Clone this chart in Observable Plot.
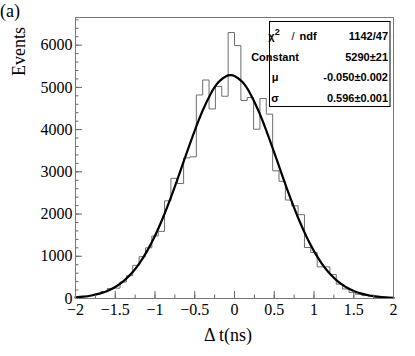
<!DOCTYPE html>
<html><head><meta charset="utf-8">
<script src="https://cdn.jsdelivr.net/npm/d3@7"></script>
<script src="https://cdn.jsdelivr.net/npm/@observablehq/plot@0.6"></script>
<style>
body{margin:0;background:#fff}
#chart{width:415px;height:356px}
#chart svg text{font-family:'Liberation Serif','Times New Roman',serif}
#chart svg g.stats text{font-family:'Liberation Sans',Arial,sans-serif;font-weight:bold}
</style>
</head><body><div id="chart"></div>
<script>
// Histogram: 50 bins of width 0.08 from -2 to 2 (Δt in ns)
const xRange = [-2, 2];
const binWidth = 0.08;
const counts = [25, 45, 70, 110, 166, 235, 245, 390, 540, 785,
  990, 1200, 1480, 1590, 2313, 2845, 2724, 3330, 3355, 4820,
  5175, 4490, 5020, 4790, 6300, 5990, 4690, 4760, 4010, 4737,
  4366, 3024, 2775, 2333, 2195, 1985, 1208, 1089, 750, 750,
  570, 340, 225, 145, 100, 70, 50, 32, 20, 12];

// Gaussian fit curve
const fitX = [-2, -1.9, -1.8, -1.7, -1.6, -1.5, -1.4, -1.3, -1.2, -1.1, -1, -0.9, -0.8, -0.7, -0.6, -0.5, -0.4, -0.3, -0.2, -0.1, -0.05,
  0, 0.1, 0.2, 0.3, 0.4, 0.5, 0.6, 0.7, 0.8, 0.9, 1, 1.1, 1.2, 1.3, 1.4, 1.5, 1.6, 1.7, 1.8, 1.9, 2];
const fitY = [25, 43, 71, 115, 180, 274, 407, 587, 822, 1121, 1485, 1913, 2396, 2918, 3456, 3978, 4452, 4845, 5125, 5271, 5290,
  5271, 5125, 4845, 4452, 3978, 3456, 2918, 2396, 1913, 1485, 1121, 822, 587, 407, 274, 180, 115, 71, 43, 25, 14];

const yMajor = [0, 1000, 2000, 3000, 4000, 5000, 6000];
const yMinor = [0, 200, 400, 600, 800, 1000, 1200, 1400, 1600, 1800, 2000, 2200, 2400, 2600, 2800, 3000, 3200, 3400, 3600, 3800,
  4000, 4200, 4400, 4600, 4800, 5000, 5200, 5400, 5600, 5800, 6000, 6200, 6400, 6600];
const yTickLabels = ["0", "1000", "2000", "3000", "4000", "5000", "6000"];
const xMajor = [-2, -1.5, -1, -0.5, 0, 0.5, 1, 1.5, 2];
const xMinor = [-2, -1.75, -1.5, -1.25, -1, -0.75, -0.5, -0.25, 0, 0.25, 0.5, 0.75, 1, 1.25, 1.5, 1.75, 2];
const xTickLabels = ["−2", "−1.5", "−1", "−0.5", "0", "0.5", "1", "1.5", "2"];

const xTitle = "Δ t(ns)";
const yTitle = "Events";
const panelTag = "(a)";
const statNames = ["Constant", "μ", "σ"];
const statValues = ["1142/47", "5290±21", "-0.050±0.002", "0.596±0.001"];

const steps = counts.map((c, i) => ({x: xRange[0] + binWidth * i, y: c}));
steps.push({x: xRange[1], y: counts[counts.length - 1]});
const fit = fitX.map((x, i) => ({x, y: fitY[i]}));

const serif = "Liberation Serif";
const axisGray = "#666";
const chart = Plot.plot({
  width: 415, height: 356,
  marginLeft: 75, marginRight: 22, marginTop: 17, marginBottom: 58,
  style: {fontFamily: serif, fontSize: "16px", color: "black", background: "white"},
  x: {domain: xRange},
  y: {domain: [0, 6655]},
  marks: [
    Plot.line(steps, {x: "x", y: "y", curve: "step-after", stroke: "#6e6e6e", strokeWidth: 1}),
    Plot.line(fit, {x: "x", y: "y", curve: "natural", stroke: "black", strokeWidth: 2.2}),
    Plot.axisY({ticks: yMinor, tickSize: -3.5, tickFormat: () => "", label: null, stroke: axisGray}),
    Plot.axisY({ticks: yMajor, tickSize: -7, tickFormat: () => "", label: null, stroke: axisGray}),
    Plot.axisY({ticks: yMajor, tickSize: 0, tickPadding: 3, tickFormat: (d, i) => yTickLabels[i], label: null, fill: "black", fontSize: 16}),
    Plot.axisX({ticks: xMinor, tickSize: -3.5, tickFormat: () => "", label: null, stroke: axisGray}),
    Plot.axisX({ticks: xMajor, tickSize: -7, tickFormat: () => "", label: null, stroke: axisGray}),
    Plot.axisX({ticks: xMajor, tickSize: 0, tickPadding: 5, tickFormat: (d, i) => xTickLabels[i], label: null, fill: "black", fontSize: 16}),
    Plot.frame({stroke: "#777"})
  ]
});
document.getElementById("chart").appendChild(chart);

const svg = d3.select(chart);
svg.append("text").attr("x", 228).attr("y", 341).attr("text-anchor", "middle")
  .attr("font-size", 18).text(xTitle);
svg.append("text").attr("transform", "translate(25,27) rotate(-90)").attr("text-anchor", "end")
  .attr("font-size", 18).text(yTitle);
svg.append("text").attr("x", 10).attr("y", 17)
  .attr("font-size", 18).text(panelTag);

// Statistics box
const g = svg.append("g").attr("class", "stats").attr("font-size", 11).attr("fill", "black");
g.append("rect").attr("x", 269.5).attr("y", 21.5).attr("width", 120.5).attr("height", 85)
  .attr("fill", "white").attr("stroke", "black").attr("stroke-width", 1);
const rowY = [40, 60.5, 81, 101.5];
const chi = g.append("text").attr("x", 274).attr("y", rowY[0]);
chi.append("tspan").text("χ");
chi.append("tspan").attr("dy", -5).attr("font-size", 9).text("2");
g.append("text").attr("x", 293).attr("y", rowY[0]).style("font-weight", "normal").text("/");
g.append("text").attr("x", 308).attr("y", rowY[0]).text("ndf");
statNames.forEach((s, i) => {
  g.append("text").attr("x", 275).attr("y", rowY[i + 1]).text(s);
});
statValues.forEach((v, i) => {
  g.append("text").attr("x", 388).attr("y", rowY[i]).attr("text-anchor", "end").text(v);
});
</script>
</body></html>
